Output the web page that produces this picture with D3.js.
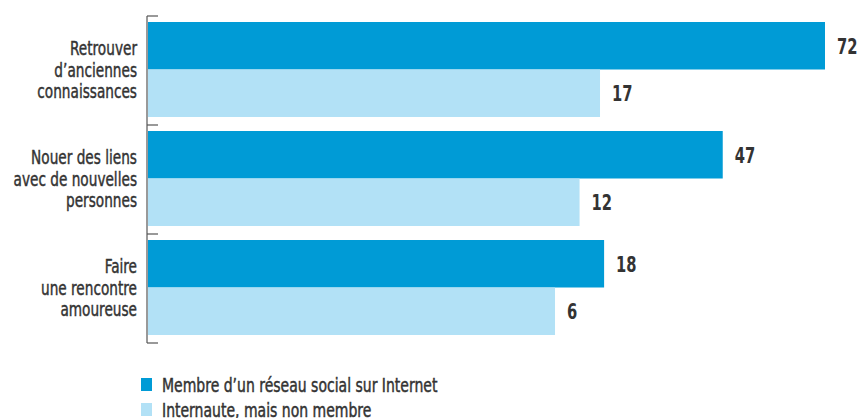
<!DOCTYPE html>
<html>
<head>
<meta charset="utf-8">
<script src="https://cdn.jsdelivr.net/npm/d3@7"></script>
<style>
  body { margin: 0; background: #fff; }
  svg { display: block; }
  text { font-family: "DejaVu Sans Condensed", "Liberation Sans Narrow", sans-serif; fill: #333; }
  .lbl { stroke: #333; stroke-width: 0.45px; }
</style>
</head>
<body>
<svg></svg>
<script>
const categories = ["Retrouver\nd’anciennes\nconnaissances", "Nouer des liens\navec de nouvelles\npersonnes", "Faire\nune rencontre\namoureuse"];
const seriesNames = ["Membre d’un réseau social sur Internet", "Internaute, mais non membre"];
const membres = [72, 47, 18];
const internautes = [17, 12, 6];
const colors = ["#009bd6", "#b2e1f6"];

const width = 861;
const height = 418;

const canvas = d3.select("svg").attr("width", width).attr("height", height);

const rows = categories.map((c, i) => ({cat: c, values: [membres[i], internautes[i]]}));

// the bars don't start at zero in the original, the scale is offset
const xScale = d3.scaleLinear().domain([-93.5, 72]).range([148, 825]);
const yScale = d3.scaleBand().domain(categories).range([16, 343]);
const inner = d3.scaleBand().domain([0, 1]).range([6, yScale.bandwidth() - 8]);

// axis with ticks on the band edges
const axisX = 147;
canvas.append("line")
  .attr("x1", axisX).attr("x2", axisX)
  .attr("y1", yScale.range()[0]).attr("y2", yScale.range()[1])
  .attr("stroke", "#555").attr("stroke-width", 1.2);
const edges = categories.map(c => yScale(c)).concat([yScale.range()[1]]);
canvas.selectAll("line.tick").data(edges).enter().append("line")
  .attr("class", "tick")
  .attr("x1", axisX).attr("x2", axisX + 11)
  .attr("y1", d => d).attr("y2", d => d)
  .attr("stroke", "#555").attr("stroke-width", 1.2);

const groups = canvas.selectAll("g.grp").data(rows).enter().append("g")
  .attr("class", "grp")
  .attr("transform", d => `translate(0,${yScale(d.cat)})`);

groups.selectAll("rect").data(d => d.values).enter().append("rect")
  .attr("x", xScale(-93.5))
  .attr("y", (d, i) => inner(i))
  .attr("width", d => xScale(d) - xScale(-93.5))
  .attr("height", inner.bandwidth())
  .attr("fill", (d, i) => colors[i]);

// condensed look: squeeze the text horizontally
groups.selectAll("text.val").data(d => d.values).enter().append("text")
  .attr("class", "val")
  .attr("transform", (d, i) => `translate(${xScale(d) + 12},${inner(i) + inner.bandwidth() / 2 + 8}) scale(0.78,1)`)
  .style("font-size", "21px").style("font-weight", "bold")
  .text(d => d);

// category labels
groups.each(function(d) {
  const lines = d.cat.split("\n");
  const t = d3.select(this).append("text")
    .attr("class", "lbl")
    .attr("transform", `translate(137,${yScale.bandwidth() / 2 + 6}) scale(0.76,1)`)
    .attr("text-anchor", "end")
    .style("font-size", "20px");
  lines.forEach((l, j) => {
    t.append("tspan")
      .attr("x", 0)
      .attr("y", (j - 1) * 21.5)
      .text(l);
  });
});

// legend
const legend = canvas.append("g").attr("transform", "translate(141,378)");
seriesNames.forEach((s, i) => {
  legend.append("rect")
    .attr("x", 0).attr("y", i * 25)
    .attr("width", 11).attr("height", 13)
    .attr("fill", colors[i]);
  legend.append("text")
    .attr("class", "lbl")
    .attr("transform", `translate(21,${i * 25 + 14}) scale(0.82,1)`)
    .style("font-size", "19px")
    .text(s);
});
</script>
</body>
</html>
